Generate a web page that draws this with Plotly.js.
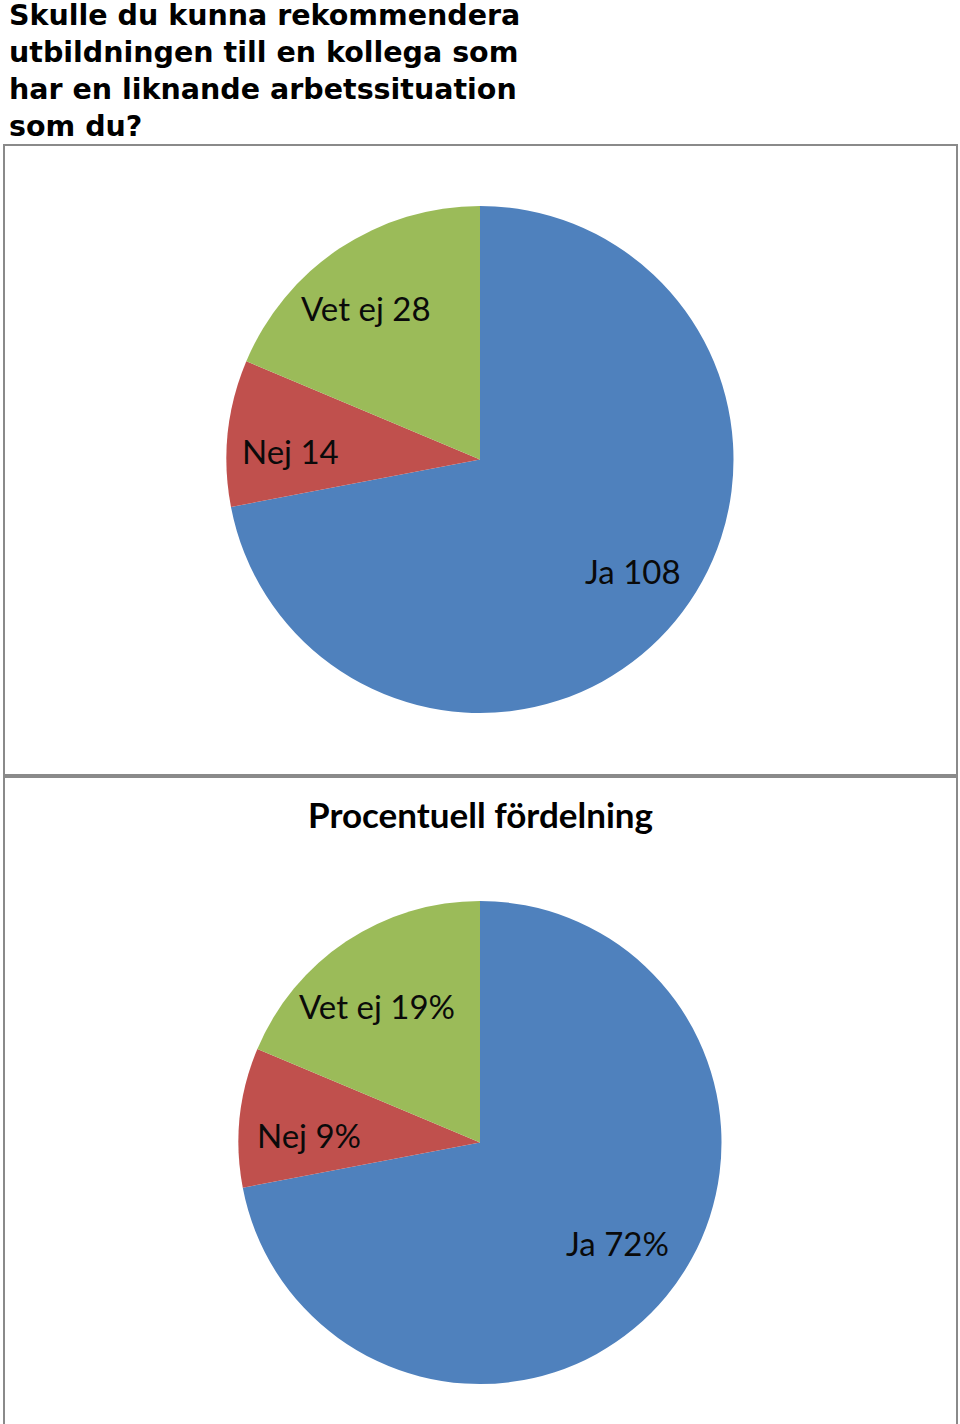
<!DOCTYPE html>
<html>
<head>
<meta charset="utf-8">
<script src="https://cdn.plot.ly/plotly-3.0.1.min.js"></script>
<style>
  html, body { margin: 0; padding: 0; background: #ffffff; }
  #chart { width: 960px; height: 1424px; }
</style>
</head>
<body>
<div id="chart"></div>
<script>
// ---- Data ----
const categories = ["Ja", "Nej", "Vet ej"];
const counts = [108, 14, 28];
const sliceColors = ["#4F81BD", "#C0504D", "#9BBB59"];
const mainTitle = "Skulle du kunna rekommendera<br>utbildningen till en kollega som<br>har en liknande arbetssituation<br>som du?";
const percentTitle = "Procentuell fördelning";

// ---- Layout helpers (pixel -> paper) ----
const W = 960, H = 1424;
const px = v => v / W;
const py = v => 1 - v / H;

const labelFont = { family: "Lato, 'Open Sans', sans-serif", size: 33, color: "#0a0a0a" };

// pie placement in pixels
const topBox = { cx: 480, cy: 459.5, r: 253.5, labelR: 0.747 };
const botBox = { cx: 480, cy: 1142.5, r: 241.5, labelR: 0.707 };
const labelAngleShift = -3.5; // degrees

function domainOf(b) {
  return { x: [px(b.cx - b.r), px(b.cx + b.r)], y: [py(b.cy + b.r), py(b.cy - b.r)] };
}

function makePie(b) {
  return {
    type: "pie",
    labels: categories,
    values: counts,
    sort: false,
    direction: "clockwise",
    rotation: 0,
    marker: { colors: sliceColors, line: { width: 0 } },
    textinfo: "none",
    hoverinfo: "label+value+percent",
    domain: domainOf(b)
  };
}

// Data labels placed at each slice's mid-angle, derived from the values
function sliceLabels(b, textFor) {
  const total = counts.reduce((a, c) => a + c, 0);
  let cum = 0;
  return counts.map((v, i) => {
    const mid = (cum + v / 2) / total * 2 * Math.PI + labelAngleShift * Math.PI / 180;
    cum += v;
    const rr = b.r * b.labelR;
    const x = b.cx + rr * Math.sin(mid);
    const y = b.cy - rr * Math.cos(mid);
    return {
      text: textFor(i, v, total), xref: "paper", yref: "paper",
      x: px(x), y: py(y), xanchor: "center", yanchor: "middle",
      showarrow: false, font: labelFont
    };
  });
}

const countLabels = sliceLabels(topBox, (i, v) => categories[i] + " " + v);
const pctLabels = sliceLabels(botBox, (i, v, t) => categories[i] + " " + Math.round(v / t * 100) + "%");

const borderLine = { color: "#8a8a8a", width: 2 };

const layout = {
  width: W,
  height: H,
  margin: { l: 0, r: 0, t: 0, b: 0, pad: 0 },
  paper_bgcolor: "#ffffff",
  showlegend: false,
  shapes: [
    { type: "rect", xref: "paper", yref: "paper",
      x0: px(4), x1: px(957), y0: py(775), y1: py(145), line: borderLine },
    { type: "rect", xref: "paper", yref: "paper",
      x0: px(4), x1: px(957), y0: py(1440), y1: py(777), line: borderLine }
  ],
  annotations: [
    { text: mainTitle, xref: "paper", yref: "paper",
      x: px(7), y: py(-3), xanchor: "left", yanchor: "top", align: "left",
      showarrow: false,
      font: { family: "'DejaVu Sans', Verdana, sans-serif", size: 28.5, color: "#000000", weight: "bold" } },
    { text: percentTitle, xref: "paper", yref: "paper",
      x: 0.5, y: py(814), xanchor: "center", yanchor: "middle",
      showarrow: false,
      font: { family: "Lato, 'Open Sans', sans-serif", size: 35, color: "#000000", weight: "bold" } }
  ].concat(countLabels, pctLabels)
};

Plotly.newPlot("chart", [makePie(topBox), makePie(botBox)], layout, { displayModeBar: false, staticPlot: true });
</script>
</body>
</html>
